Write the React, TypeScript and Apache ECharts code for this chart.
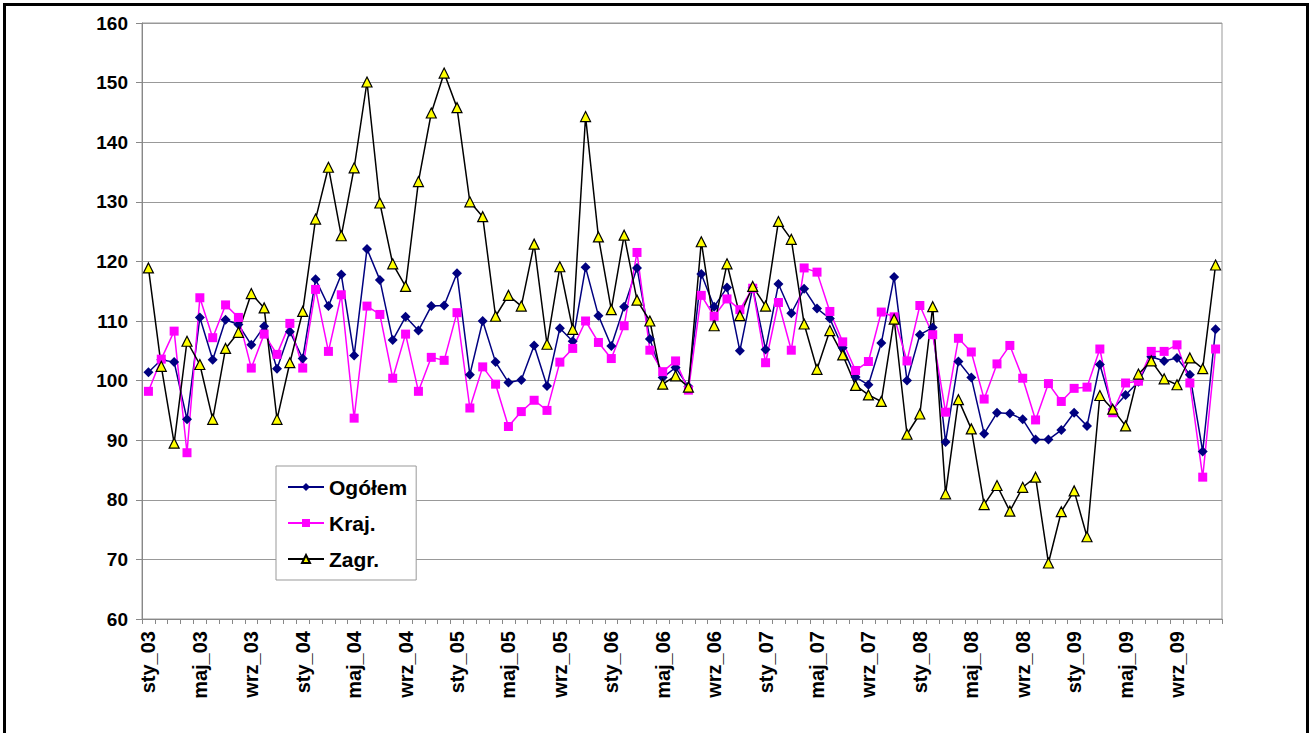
import React, { useEffect, useRef } from "react";
import * as echarts from "echarts";

const monthNames = ["sty", "lut", "mar", "kwi", "maj", "cze", "lip", "sie", "wrz", "paź", "lis", "gru"];
const years = ["03", "04", "05", "06", "07", "08", "09"];
const categories: string[] = [];
years.forEach((y) => monthNames.forEach((m) => categories.push(m + "_" + y)));

const ogolem = [
  101.4, 103.5, 103.1, 93.5, 110.6, 103.5, 110.2, 109.4, 106.0, 109.1, 102.0, 108.2,
  103.7, 117.0, 112.5, 117.8, 104.2, 122.1, 116.9, 106.8, 110.7, 108.4, 112.5, 112.6,
  118.0, 101.0, 110.0, 103.1, 99.7, 100.1, 105.9, 99.1, 108.8, 106.6, 119.0, 110.9,
  105.8, 112.4, 118.9, 107.0, 100.5, 102.2, 99.0, 117.9, 112.4, 115.6, 105.0, 115.6,
  105.2, 116.2, 111.3, 115.4, 112.1, 110.4, 105.5, 100.6, 99.3, 106.3, 117.4, 100.0,
  107.7, 108.9, 89.7, 103.2, 100.5, 91.1, 94.6, 94.5, 93.5, 90.1, 90.1, 91.7,
  94.6, 92.4, 102.7, 95.2, 97.6, 99.8, 104.0, 103.3, 103.8, 101.0, 88.1, 108.6,
];

const kraj = [
  98.2, 103.6, 108.3, 87.9, 113.9, 107.2, 112.7, 110.6, 102.1, 107.8, 104.4, 109.6,
  102.1, 115.3, 104.9, 114.4, 93.7, 112.5, 111.1, 100.4, 107.8, 98.2, 103.9, 103.4,
  111.4, 95.4, 102.3, 99.4, 92.3, 94.8, 96.7, 95.0, 103.1, 105.4, 110.0, 106.4,
  103.7, 109.2, 121.5, 105.1, 101.5, 103.3, 98.4, 114.3, 110.8, 113.7, 111.9, 115.5,
  103.0, 113.1, 105.1, 118.9, 118.2, 111.6, 106.5, 101.7, 103.2, 111.5, 110.7, 103.3,
  112.6, 107.7, 94.7, 107.1, 104.8, 96.9, 102.8, 105.9, 100.4, 93.4, 99.5, 96.5,
  98.7, 98.9, 105.3, 94.6, 99.6, 99.9, 104.9, 104.9, 106.0, 99.6, 83.8, 105.3,
];

const zagr = [
  118.9, 102.4, 89.5, 106.6, 102.7, 93.5, 105.4, 108.1, 114.6, 112.2, 93.5, 103.0,
  111.6, 127.1, 135.8, 124.3, 135.7, 150.1, 129.8, 119.6, 115.8, 133.4, 144.9, 151.6,
  145.8, 130.0, 127.5, 110.8, 114.3, 112.5, 122.9, 106.1, 119.1, 108.6, 144.3, 124.1,
  111.9, 124.4, 113.5, 110.0, 99.4, 100.8, 98.9, 123.3, 109.2, 119.6, 110.9, 115.8,
  112.5, 126.7, 123.7, 109.5, 101.9, 108.4, 104.3, 99.2, 97.6, 96.5, 110.3, 91.0,
  94.4, 112.4, 81.0, 96.8, 91.9, 79.2, 82.4, 78.1, 82.1, 83.8, 69.4, 78.0,
  81.5, 73.8, 97.5, 95.2, 92.4, 101.1, 103.3, 100.3, 99.3, 103.8, 102.0, 119.4,
];

const FONT = "'Liberation Sans', Arial, sans-serif";

export default function App() {
  const ref = useRef<HTMLDivElement>(null);
  useEffect(() => {
    if (!ref.current) return;
    const chart = echarts.init(ref.current, null, { renderer: "svg" });
    chart.setOption({
      animation: false,
      backgroundColor: "#ffffff",
      textStyle: { fontFamily: FONT },
      graphic: [
        {
          type: "rect",
          shape: { x: 4.5, y: 4.5, width: 1303, height: 745 },
          style: { fill: "none", stroke: "#000", lineWidth: 3 },
          z: 100,
        },
      ],
      grid: { left: 142, top: 23, width: 1080, height: 596, show: true, borderColor: "#999", borderWidth: 1, backgroundColor: "transparent" },
      legend: {
        orient: "vertical",
        left: 276,
        top: 466,
        width: 140,
        padding: [9, 9, 9, 11],
        itemGap: 12,
        itemWidth: 36,
        itemHeight: 10,
        borderColor: "#999",
        borderWidth: 1,
        backgroundColor: "#fff",
        textStyle: { fontFamily: FONT, fontWeight: "bold", fontSize: 21, color: "#000", lineHeight: 24 },
        data: ["Ogółem", "Kraj.", "Zagr."],
      },
      xAxis: {
        type: "category",
        data: categories,
        boundaryGap: true,
        axisLine: { lineStyle: { color: "#888", width: 1 } },
        axisTick: { show: true, interval: 0, length: 5, lineStyle: { color: "#888" } },
        axisLabel: {
          interval: 3,
          rotate: 90,
          margin: 12,
          color: "#000",
          fontWeight: "bold",
          fontSize: 20,
          fontFamily: FONT,
        },
        splitLine: { show: false },
      },
      yAxis: {
        type: "value",
        min: 60,
        max: 160,
        interval: 10,
        axisLine: { show: true, lineStyle: { color: "#888" } },
        axisTick: { show: true, length: 6, lineStyle: { color: "#888" } },
        axisLabel: { color: "#000", fontWeight: "bold", fontSize: 19, fontFamily: FONT, margin: 14 },
        splitLine: { lineStyle: { color: "#999", width: 1 } },
      },
      series: [
        {
          name: "Ogółem",
          type: "line",
          data: ogolem,
          symbol: "diamond",
          symbolSize: 10,
          showAllSymbol: true,
          lineStyle: { color: "#000080", width: 1.5 },
          itemStyle: { color: "#000080" },
        },
        {
          name: "Kraj.",
          type: "line",
          data: kraj,
          symbol: "rect",
          symbolSize: 9,
          showAllSymbol: true,
          lineStyle: { color: "#ff00ff", width: 1.5 },
          itemStyle: { color: "#ff00ff" },
        },
        {
          name: "Zagr.",
          type: "line",
          data: zagr,
          symbol: "triangle",
          symbolSize: 10,
          showAllSymbol: true,
          lineStyle: { color: "#000", width: 1.5 },
          itemStyle: { color: "#ffff00", borderColor: "#000", borderWidth: 1.2 },
        },
      ],
    });
    return () => chart.dispose();
  }, []);
  return (
    <div
      ref={ref}
      style={{ position: "fixed", left: 0, top: 0, width: 1311, height: 733, background: "#fff" }}
    />
  );
}
